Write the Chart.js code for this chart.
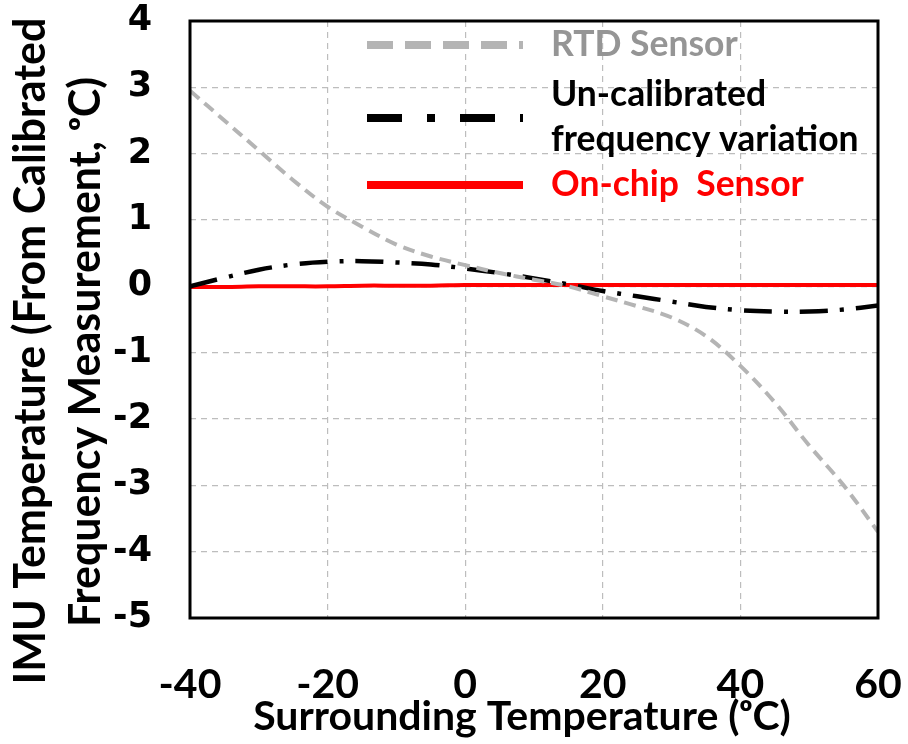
<!DOCTYPE html>
<html>
<head>
<meta charset="utf-8">
<script src="https://cdn.jsdelivr.net/npm/chart.js@4.4.1/dist/chart.umd.min.js"></script>
<style>
html,body{margin:0;padding:0;background:#fff;}
#wrap{width:908px;height:744px;}
</style>
</head>
<body>
<div id="wrap"><canvas id="c" width="908" height="744"></canvas></div>
<script>
// ---- data ----
const temps = [-40,-35,-30,-25,-20,-15,-10,-5,0,5,10,15,20,25,30,35,40,45,50,55,60];
const rtdSensor = [2.95,2.5,2.05,1.6,1.2,0.9,0.63,0.45,0.32,0.2,0.1,0.0,-0.15,-0.3,-0.47,-0.75,-1.2,-1.75,-2.4,-3.0,-3.7];
const uncalibrated = [0.0,0.13,0.25,0.33,0.37,0.38,0.36,0.33,0.27,0.2,0.12,0.03,-0.07,-0.15,-0.23,-0.31,-0.36,-0.38,-0.38,-0.35,-0.29];
const onChip = [-0.01,-0.01,0.0,0.0,0.0,0.01,0.01,0.01,0.02,0.02,0.02,0.02,0.02,0.02,0.02,0.02,0.02,0.02,0.02,0.02,0.02];
const seriesNames = ['RTD Sensor', ['Un-calibrated','frequency variation'], 'On-chip  Sensor'];
const xTickValues = [-40,-20,0,20,40,60];
const yTickValues = [-5,-4,-3,-2,-1,0,1,2,3,4];
const xTitle = 'Surrounding Temperature (\u1D52C)';
const yTitle = ['IMU Temperature (From Calibrated', 'Frequency Measurement, \u1D52C)'];

const pts = arr => temps.map((t,i)=>({x:t,y:arr[i]}));

const legendStyles = [
  {color:'#b4b4b4', text:'#959595', dash:[26,12], width:8},
  {color:'#000000', text:'#000000', dash:[35,25,8,25], width:8},
  {color:'#ff0000', text:'#ff0000', dash:[], width:8}
];

const decor = {
  id:'decor',
  afterDraw(chart){
    const ctx = chart.ctx, a = chart.chartArea;
    ctx.save();
    // frame
    ctx.strokeStyle = '#000'; ctx.lineWidth = 3; ctx.setLineDash([]);
    ctx.strokeRect(a.left, a.top, a.right-a.left, a.bottom-a.top);
    // legend
    const rows = [45, 118, 185];
    const textRows = [[45],[95,140],[185]];
    ctx.textBaseline = 'middle'; ctx.textAlign = 'left';
    ctx.font = 'bold 35.5px Lato';
    seriesNames.forEach((nm,i)=>{
      const s = legendStyles[i];
      ctx.strokeStyle = s.color; ctx.lineWidth = s.width; ctx.setLineDash(s.dash);
      ctx.beginPath(); ctx.moveTo(367, rows[i]); ctx.lineTo(523, rows[i]); ctx.stroke();
      ctx.fillStyle = s.text;
      const lines = Array.isArray(nm) ? nm : [nm];
      lines.forEach((ln,j)=>ctx.fillText(ln, 551, textRows[i][j]));
    });
    ctx.setLineDash([]);
    // axis titles
    ctx.fillStyle = '#000';
    ctx.textBaseline = 'alphabetic';
    ctx.textAlign = 'center';
    ctx.font = 'bold 41px Lato';
    ctx.fillText(xTitle, 522, 730);
    ctx.font = 'bold 43px Lato';
    ctx.save();
    ctx.translate(45, 351); ctx.rotate(-Math.PI/2);
    ctx.fillText(yTitle[0], 0, 0);
    ctx.restore();
    ctx.save();
    ctx.translate(100, 352); ctx.rotate(-Math.PI/2);
    ctx.fillText(yTitle[1], 0, 0);
    ctx.restore();
    ctx.restore();
  }
};

function zeroPad(s){ s.paddingTop = 0; s.paddingBottom = 0; s.paddingLeft = 0; s.paddingRight = 0; }

new Chart(document.getElementById('c'), {
  type:'line',
  data:{
    datasets:[
      {label:'RTD Sensor', data:pts(rtdSensor), borderColor:'#b4b4b4', borderWidth:4, borderDash:[12,7], pointRadius:0, tension:0.35, fill:false},
      {label:'Un-calibrated frequency variation', data:pts(uncalibrated), borderColor:'#000', borderWidth:4.5, borderDash:[28,12,4,12], pointRadius:0, tension:0.35, fill:false},
      {label:'On-chip Sensor', data:pts(onChip), borderColor:'#ff0000', borderWidth:4, pointRadius:0, tension:0.35, fill:false}
    ]
  },
  options:{
    responsive:false, animation:false,
    layout:{padding:{top:21,right:30,left:0,bottom:0}},
    plugins:{legend:{display:false}, tooltip:{enabled:false}},
    scales:{
      x:{type:'linear', min:-40, max:60,
        afterBuildTicks(s){ s.ticks = xTickValues.map(v=>({value:v})); },
        afterFit(s){ s.height = 126; zeroPad(s); },
        ticks:{font:{family:'Lato', weight:'bold', size:41}, color:'#000', padding:42, maxRotation:0},
        grid:{color:'#bdbdbd', lineWidth:1.2, drawTicks:false},
        border:{display:false, dash:[6,5]}
      },
      y:{min:-5, max:4,
        afterBuildTicks(s){ s.ticks = yTickValues.map(v=>({value:v})); },
        afterFit(s){ s.width = 190; zeroPad(s); },
        ticks:{font:{family:'DejaVu Sans', weight:'bold', size:35}, color:'#000', padding:38},
        grid:{color:'#bdbdbd', lineWidth:1.2, drawTicks:false},
        border:{display:false, dash:[6,5]}
      }
    }
  },
  plugins:[decor]
});
</script>
</body>
</html>
